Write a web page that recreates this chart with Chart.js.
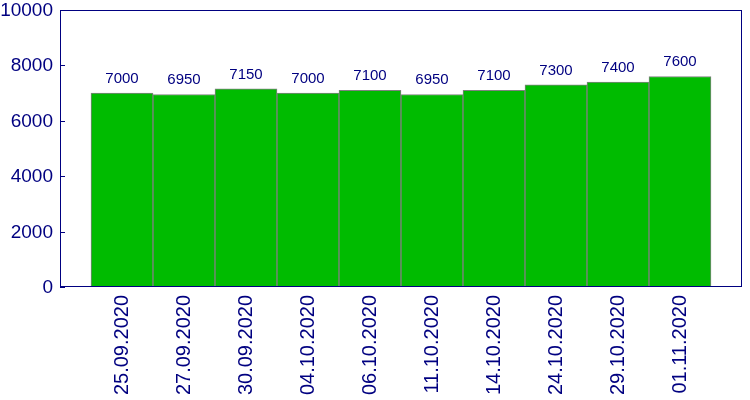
<!DOCTYPE html>
<html>
<head>
<meta charset="utf-8">
<script src="https://cdn.jsdelivr.net/npm/chart.js@4/dist/chart.umd.min.js"></script>
<style>
  body { margin: 0; background: #fff; }
  #wrap { width: 750px; height: 400px; }
</style>
</head>
<body>
<div id="wrap"><canvas id="myChart" width="750" height="400"></canvas></div>
<script>
var dates = ["25.09.2020", "27.09.2020", "30.09.2020", "04.10.2020", "06.10.2020",
             "11.10.2020", "14.10.2020", "24.10.2020", "29.10.2020", "01.11.2020"];
var amounts = [7000, 6950, 7150, 7000, 7100, 6950, 7100, 7300, 7400, 7600];
var yTicks = [0, 2000, 4000, 6000, 8000, 10000];

var NAVY = "#000080";
var FONT = "'Liberation Sans', Arial, sans-serif";

// frame around the plot, inward ticks, y labels and value labels
var framePlugin = {
	id: "frame",
	afterDraw: function (chart) {
		var ctx = chart.ctx;
		var a = chart.chartArea;
		var y = chart.scales.y;
		ctx.save();
		ctx.strokeStyle = NAVY;
		ctx.lineWidth = 1;
		ctx.strokeRect(a.left + 0.5, a.top + 0.5, a.right - a.left - 1, a.bottom - a.top - 1);
		ctx.fillStyle = NAVY;
		ctx.font = "19px " + FONT;
		ctx.textAlign = "right";
		ctx.textBaseline = "alphabetic";
		yTicks.forEach(function (t) {
			var py = Math.round(y.getPixelForValue(t)) + 0.5;
			ctx.beginPath();
			ctx.moveTo(a.left, py);
			ctx.lineTo(a.left + 5, py);
			ctx.stroke();
			ctx.fillText(String(t), a.left - 7, py + 5.5);
		});
		ctx.font = "15px " + FONT;
		ctx.textAlign = "center";
		chart.getDatasetMeta(0).data.forEach(function (bar, i) {
			ctx.fillText(String(amounts[i]), bar.x, bar.y - 10);
		});
		ctx.restore();
	}
};

var ctx = document.getElementById("myChart");
var chart = new Chart(ctx, {
	type: "bar",
	data: {
		datasets: [{
			data: amounts.map(function (v, i) { return { x: i, y: v }; }),
			backgroundColor: "#00bb00",
			borderColor: "#808080",
			borderWidth: 1,
			barPercentage: 1,
			categoryPercentage: 1
		}]
	},
	options: {
		responsive: false,
		animation: false,
		layout: { padding: { top: 10, right: 8, left: 0, bottom: 0 } },
		plugins: {
			legend: { display: false },
			tooltip: { enabled: false }
		},
		scales: {
			x: {
				type: "linear",
				offset: false,
				min: -1,
				max: 10,
				grid: { display: false },
				border: { display: false },
				afterFit: function (s) {
					s.height = 113;
					s.paddingLeft = 0;
					s.paddingRight = 0;
				},
				ticks: {
					stepSize: 1,
					autoSkip: false,
					minRotation: 90,
					maxRotation: 90,
					padding: 0,
					color: NAVY,
					font: { family: FONT, size: 20 },
					callback: function (v) { return dates[v] !== undefined ? dates[v] : ""; }
				}
			},
			y: {
				min: 0,
				max: 10000,
				grid: { display: false },
				border: { display: false },
				ticks: { display: false },
				afterFit: function (s) {
					s.width = 60;
					s.paddingTop = 0;
					s.paddingBottom = 0;
				}
			}
		}
	},
	plugins: [framePlugin]
});
</script>
</body>
</html>
